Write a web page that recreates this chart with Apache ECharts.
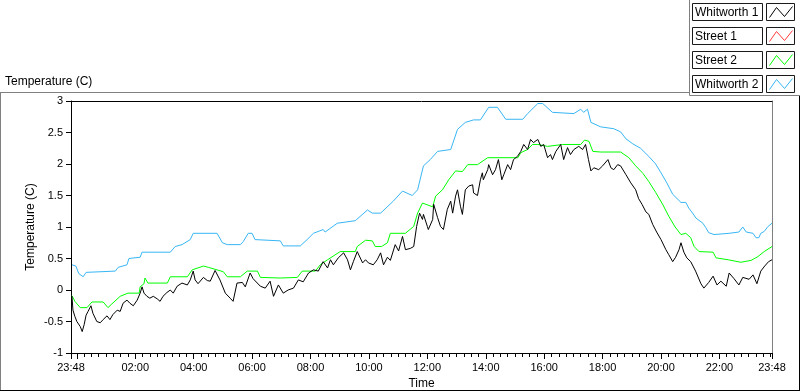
<!DOCTYPE html>
<html><head><meta charset="utf-8">
<script src="https://cdn.jsdelivr.net/npm/echarts@6/dist/echarts.min.js"></script>
<style>html,body{margin:0;padding:0;background:#fff;overflow:hidden}#c{width:800px;height:392px}</style>
</head><body><div id="c"></div>
<script>
// Time axis: minutes after the first sample (23:48), 0..1440
const seriesNames = ['Whitworth 1', 'Street 1', 'Street 2', 'Whitworth 2'];
const seriesColors = ['#000000', '#ff3c3c', '#00ff00', '#38b6f4'];
const startClockMin = 23 * 60 + 48;
const xLabelMinutes = [0, 132, 252, 372, 492, 612, 732, 852, 972, 1092, 1212, 1332, 1440];
const xMajorTickMinutes = [0, 12, 132, 252, 372, 492, 612, 732, 852, 972, 1092, 1212, 1332, 1440];
const xMinorStep = 15;
const yMin = -1, yMax = 3, yStep = 0.5;

const whitworth1 = [[2,-0.10],[4,-0.32],[8,-0.42],[12,-0.50],[19,-0.58],[23,-0.66],[27,-0.55],[31,-0.40],[35,-0.34],[41,-0.25],[45,-0.37],[53,-0.50],[60,-0.52],[66,-0.47],[74,-0.41],[80,-0.47],[86,-0.39],[95,-0.32],[101,-0.34],[107,-0.21],[115,-0.16],[121,-0.21],[128,-0.25],[136,-0.16],[142,-0.05],[146,0.05],[150,-0.05],[156,-0.10],[162,-0.13],[169,-0.10],[177,-0.14],[183,-0.18],[189,-0.10],[197,-0.04],[204,0.00],[210,-0.05],[218,0.06],[228,0.11],[239,0.08],[245,0.16],[251,0.30],[255,0.16],[261,0.10],[265,0.12],[272,0.20],[280,0.15],[286,0.14],[296,0.31],[306,0.16],[317,-0.05],[327,-0.13],[333,-0.18],[341,0.11],[352,0.12],[358,0.05],[368,0.27],[374,0.18],[389,0.06],[399,0.03],[409,0.14],[416,-0.10],[426,0.08],[436,-0.05],[446,0.00],[457,0.03],[467,0.16],[477,0.13],[488,0.27],[498,0.32],[508,0.30],[518,0.45],[527,0.35],[533,0.48],[539,0.40],[549,0.51],[560,0.59],[568,0.48],[574,0.32],[580,0.45],[588,0.61],[599,0.43],[605,0.48],[611,0.43],[621,0.40],[629,0.48],[636,0.59],[642,0.40],[650,0.52],[656,0.47],[666,0.72],[673,0.62],[681,0.85],[687,0.64],[697,0.66],[704,0.69],[710,1.01],[716,1.22],[722,1.12],[724,1.20],[732,1.01],[734,0.96],[743,1.12],[745,1.36],[753,1.15],[759,1.01],[765,0.96],[773,1.28],[780,1.41],[784,1.22],[790,1.49],[794,1.59],[800,1.33],[804,1.20],[810,1.59],[817,1.65],[825,1.67],[827,1.54],[835,1.50],[841,1.75],[845,1.86],[847,1.75],[856,1.91],[858,1.99],[866,1.83],[872,1.91],[878,2.07],[885,1.75],[889,1.83],[897,1.99],[903,1.91],[909,2.07],[917,2.12],[924,2.20],[930,2.31],[938,2.23],[944,2.39],[950,2.34],[959,2.39],[965,2.28],[971,2.31],[979,2.10],[985,2.15],[989,2.07],[996,2.20],[1006,2.31],[1012,2.07],[1020,2.26],[1026,2.15],[1033,2.23],[1043,2.28],[1051,2.23],[1057,2.31],[1063,2.07],[1068,1.89],[1074,1.94],[1084,1.91],[1092,1.97],[1103,2.07],[1109,1.94],[1115,1.91],[1123,1.99],[1129,1.97],[1140,1.83],[1150,1.70],[1160,1.59],[1166,1.45],[1173,1.36],[1181,1.24],[1187,1.20],[1195,1.04],[1203,0.92],[1212,0.80],[1222,0.64],[1228,0.56],[1236,0.45],[1242,0.52],[1249,0.64],[1253,0.75],[1259,0.60],[1265,0.51],[1273,0.45],[1283,0.30],[1294,0.10],[1300,0.03],[1310,0.12],[1319,0.22],[1327,0.08],[1335,0.14],[1346,0.06],[1352,0.27],[1362,0.18],[1372,0.08],[1380,0.20],[1393,0.17],[1401,0.24],[1409,0.10],[1417,0.30],[1425,0.38],[1433,0.45],[1440,0.48]];
const street1 = [];
const street2 = [[2,-0.09],[8,-0.18],[19,-0.28],[33,-0.28],[43,-0.19],[66,-0.19],[76,-0.28],[84,-0.22],[101,-0.10],[117,-0.05],[140,-0.05],[142,0.05],[150,0.10],[152,0.19],[158,0.11],[198,0.11],[204,0.21],[239,0.21],[249,0.32],[272,0.38],[282,0.36],[313,0.29],[321,0.21],[348,0.21],[362,0.30],[383,0.30],[389,0.20],[430,0.19],[465,0.20],[475,0.30],[502,0.30],[512,0.40],[527,0.48],[553,0.61],[584,0.61],[588,0.69],[605,0.79],[619,0.78],[625,0.69],[638,0.69],[650,0.75],[656,0.90],[687,0.90],[704,1.01],[712,1.22],[722,1.38],[743,1.32],[749,1.49],[763,1.59],[776,1.75],[790,1.89],[804,1.88],[815,1.99],[835,1.99],[856,2.10],[918,2.10],[924,2.18],[938,2.23],[948,2.31],[959,2.31],[979,2.28],[1010,2.31],[1047,2.31],[1055,2.38],[1064,2.36],[1072,2.20],[1088,2.19],[1129,2.19],[1146,2.10],[1160,1.97],[1175,1.85],[1187,1.72],[1201,1.55],[1216,1.35],[1228,1.17],[1241,1.00],[1253,0.88],[1263,0.90],[1273,0.83],[1280,0.69],[1290,0.61],[1319,0.60],[1325,0.51],[1350,0.48],[1376,0.44],[1397,0.47],[1411,0.53],[1424,0.61],[1440,0.69]];
const whitworth2 = [[2,0.40],[10,0.38],[16,0.26],[25,0.21],[31,0.28],[35,0.30],[91,0.30],[97,0.36],[115,0.40],[119,0.50],[142,0.52],[146,0.60],[204,0.60],[214,0.69],[228,0.72],[245,0.80],[251,0.90],[300,0.90],[311,0.75],[321,0.72],[348,0.72],[354,0.77],[364,0.90],[372,0.90],[378,0.80],[430,0.78],[436,0.70],[471,0.70],[485,0.80],[498,0.90],[518,0.96],[522,0.92],[547,1.06],[584,1.10],[609,1.27],[619,1.22],[636,1.22],[662,1.41],[681,1.57],[701,1.50],[712,1.59],[724,1.97],[738,2.07],[753,2.20],[780,2.23],[794,2.55],[810,2.66],[827,2.70],[841,2.70],[858,2.90],[876,2.90],[893,2.71],[928,2.71],[938,2.80],[959,2.96],[969,2.96],[989,2.82],[1033,2.80],[1047,2.87],[1053,2.82],[1061,2.87],[1068,2.66],[1088,2.59],[1115,2.56],[1129,2.51],[1140,2.40],[1154,2.32],[1170,2.25],[1187,2.12],[1201,2.00],[1212,1.86],[1224,1.70],[1236,1.52],[1253,1.39],[1263,1.39],[1269,1.30],[1277,1.22],[1284,1.14],[1298,1.06],[1304,0.99],[1310,0.91],[1321,0.88],[1352,0.90],[1356,0.87],[1372,0.92],[1380,1.00],[1387,0.92],[1401,0.90],[1407,0.83],[1413,0.83],[1417,0.90],[1424,0.93],[1432,1.01],[1440,1.06]];
const seriesData = [whitworth1, street1, street2, whitworth2];
const seriesZ = [4, 3, 3, 2];

const FONT = 'Liberation Sans, Arial, sans-serif';
function clock(v) {
  const t = ((startClockMin + Math.round(v)) % 1440 + 1440) % 1440;
  const h = Math.floor(t / 60), m = t % 60;
  return (h < 10 ? '0' : '') + h + ':' + (m < 10 ? '0' : '') + m;
}
const minorTicks = [];
for (let m = 12; m <= 1440; m += xMinorStep) minorTicks.push(m);

const chart = echarts.init(document.getElementById('c'), null, {renderer: 'canvas'});

const legendGraphics = [];
seriesNames.forEach((name, i) => {
  const y0 = 3.5 + 24 * i;
  legendGraphics.push({type: 'rect', shape: {x: 692.5, y: y0, width: 70, height: 17}, style: {fill: '#fff', stroke: '#1a1a1a', lineWidth: 1}, z: 10});
  legendGraphics.push({type: 'text', x: 695, y: y0 + 9, style: {text: name, fill: '#000', font: '12px ' + FONT, verticalAlign: 'middle', align: 'left'}, z: 11});
  legendGraphics.push({type: 'rect', shape: {x: 766.5, y: y0, width: 28, height: 17}, style: {fill: '#fff', stroke: '#1a1a1a', lineWidth: 1}, z: 10});
  const x0 = 766.5;
  legendGraphics.push({type: 'polyline', shape: {points: [[x0 + 3, y0 + 14], [x0 + 10, y0 + 4], [x0 + 18, y0 + 13], [x0 + 26, y0 + 3]]}, style: {stroke: seriesColors[i], lineWidth: 1, fill: null}, z: 11});
});

const option = {
  animation: false,
  backgroundColor: '#fff',
  textStyle: {fontFamily: FONT},
  title: {text: 'Temperature (C)', left: 5, top: 76, padding: 0, textStyle: {fontSize: 12, fontWeight: 'normal', color: '#000', fontFamily: FONT}},
  grid: {left: 71, right: 28, top: 101, bottom: 39, containLabel: false, outerBoundsMode: 'none'},
  xAxis: [
    {type: 'value', min: 0, max: 1440, position: 'bottom',
     name: 'Time', nameLocation: 'middle', nameGap: 25, nameMoveOverlap: false,
     nameTextStyle: {color: '#000', fontSize: 12, fontFamily: FONT},
     axisLine: {show: true, onZero: false, lineStyle: {color: '#000', width: 1}},
     axisTick: {show: true, length: 6, customValues: xMajorTickMinutes, lineStyle: {color: '#000'}},
     axisLabel: {show: true, customValues: xLabelMinutes, formatter: clock, color: '#000', fontSize: 11, margin: 9, fontFamily: FONT},
     splitLine: {show: false}},
    {type: 'value', min: 0, max: 1440, position: 'bottom',
     axisLine: {show: false, onZero: false}, axisLabel: {show: false}, splitLine: {show: false},
     axisTick: {show: true, length: 4, customValues: minorTicks, lineStyle: {color: '#000'}}},
    {type: 'value', min: 0, max: 1440, position: 'top',
     axisLine: {show: true, onZero: false, lineStyle: {color: '#000'}}, axisLabel: {show: false}, axisTick: {show: false}, splitLine: {show: false}}
  ],
  yAxis: [
    {type: 'value', min: yMin, max: yMax, interval: yStep, position: 'left',
     name: 'Temperature (C)', nameLocation: 'middle', nameGap: 34, nameRotate: 90, nameMoveOverlap: false,
     nameTextStyle: {color: '#000', fontSize: 12, fontFamily: FONT},
     axisLine: {show: true, onZero: false, lineStyle: {color: '#000'}},
     axisTick: {show: true, length: 5, lineStyle: {color: '#000'}},
     axisLabel: {color: '#000', fontSize: 11, margin: 8, fontFamily: FONT},
     splitLine: {show: false}},
    {type: 'value', min: yMin, max: yMax, interval: yStep, position: 'right',
     axisLine: {show: true, onZero: false, lineStyle: {color: '#808080'}}, axisTick: {show: false}, axisLabel: {show: false}, splitLine: {show: false}}
  ],
  series: seriesNames.map((name, i) => ({
    name: name, type: 'line', xAxisIndex: 0, yAxisIndex: 0,
    data: seriesData[i], showSymbol: false, symbol: 'none',
    lineStyle: {color: seriesColors[i], width: 1}, itemStyle: {color: seriesColors[i]},
    z: seriesZ[i]
  })),
  graphic: [
    {type: 'line', shape: {x1: 0, y1: 92.5, x2: 690, y2: 92.5}, style: {stroke: '#808080', lineWidth: 1}},
    {type: 'line', shape: {x1: 0.5, y1: 92, x2: 0.5, y2: 391}, style: {stroke: '#808080', lineWidth: 1}},
    {type: 'line', shape: {x1: 0, y1: 390.5, x2: 800, y2: 390.5}, style: {stroke: '#000', lineWidth: 1}},
    {type: 'line', shape: {x1: 799.5, y1: 95, x2: 799.5, y2: 391}, style: {stroke: '#000', lineWidth: 1}},
    {type: 'line', shape: {x1: 689.5, y1: 0, x2: 689.5, y2: 95.5}, style: {stroke: '#808080', lineWidth: 1}},
    {type: 'line', shape: {x1: 689.5, y1: 95.5, x2: 800, y2: 95.5}, style: {stroke: '#808080', lineWidth: 1}}
  ].concat(legendGraphics)
};
chart.setOption(option);
</script></body></html>
